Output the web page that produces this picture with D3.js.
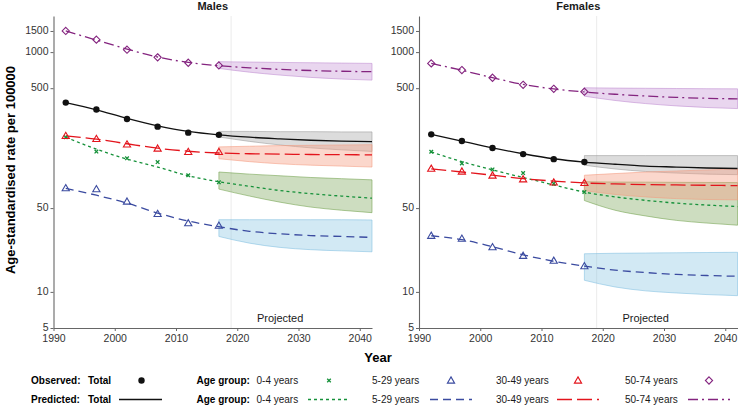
<!DOCTYPE html>
<html>
<head>
<meta charset="utf-8">
<script src="https://cdn.jsdelivr.net/npm/d3@7"></script>
<style>
body { margin: 0; background: #fff; }
svg { font-family: "Liberation Sans", Arial, sans-serif; }
</style>
</head>
<body>
<svg id="chart" width="738" height="405"></svg>
<script>
// years
let obsYears = [1992, 1997, 2002, 2007, 2012, 2017],
    predYears = [1992, 1997, 2002, 2007, 2012, 2017, 2022, 2027, 2032, 2037, 2042],
    bandYears = [2017, 2022, 2027, 2032, 2037, 2042];

let xTicks = [1990, 2000, 2010, 2020, 2030, 2040],
    yTicks = [5, 10, 50, 500, 1000, 1500];

// Males
let mTotalObs = [379, 332, 277, 239, 213, 204],
    mTotalPred = [379, 330, 280, 243, 218, 204, 195, 189, 184, 181, 179],
    mTotalLo = [196, 180, 168, 159, 153, 148.5],
    mTotalHi = [218, 218, 217, 217, 216, 216];
let m04Obs = [195, 148, 130, 121, 94, 82],
    m04Pred = [195, 155, 128, 110, 93, 83, 76, 70, 66, 63, 60.5],
    m04Lo = [72, 63, 56, 51, 48, 45.8],
    m04Hi = [100, 96, 93, 90, 88, 86];
let m529Obs = [73.4, 71.9, 56.7, 44.7, 37.4, 35.7],
    m529Pred = [73, 64, 55, 45.5, 39, 35, 32, 30.5, 29.5, 29, 28.5],
    m529Lo = [29, 25.5, 23.5, 22.5, 22, 21.6],
    m529Hi = [40, 40, 40, 40, 40, 39.8];
let m3049Obs = [200, 189, 170, 157, 147, 147],
    m3049Pred = [200, 188, 172, 158, 149, 144, 142, 141, 140, 139.5, 139],
    m3049Lo = [129, 122, 117, 114, 112, 110],
    m3049Hi = [162, 164, 166, 167, 168, 169];
let m5074Obs = [1500, 1270, 1047, 904, 815, 774],
    m5074Pred = [1500, 1260, 1060, 910, 820, 770, 740, 717, 702, 692, 686],
    m5074Lo = [731, 680, 643, 615, 596, 584],
    m5074Hi = [832, 826, 820, 815, 810, 805];

// Females
let fTotalObs = [206, 181.5, 158.5, 141, 128, 121],
    fTotalPred = [206, 181, 159, 142, 129, 121, 116, 112, 110, 108, 107],
    fTotalLo = [114, 106, 101, 98, 96, 95],
    fTotalHi = [137, 137, 137, 137, 137, 137];
let f04Obs = [147.6, 118, 105, 98, 80, 68],
    f04Pred = [147, 122, 104, 90, 78, 68, 62, 58, 55, 53, 51.5],
    f04Lo = [57.8, 48, 43, 39.5, 37.5, 36],
    f04Hi = [83, 82.5, 82.3, 82, 81.8, 81.7];
let f529Obs = [29.4, 27.8, 23.6, 20, 18.2, 16.4],
    f529Pred = [29.4, 27.3, 23.8, 20.4, 18, 16.4, 15.2, 14.5, 14, 13.7, 13.5],
    f529Lo = [12.5, 11, 10.2, 9.8, 9.5, 9.3],
    f529Hi = [20.8, 21, 21.1, 21.2, 21.3, 21.4];
let f3049Obs = [106.5, 101, 93.5, 87, 82, 81],
    f3049Pred = [106, 100, 94, 88, 84, 81, 79.5, 78.5, 78, 77.5, 77],
    f3049Lo = [70, 65, 62, 60, 59, 58.5],
    f3049Hi = [94, 97, 100, 102, 104, 106];
let f5074Obs = [805, 708, 611, 534, 494, 467],
    f5074Pred = [805, 705, 612, 537, 493, 465, 445, 430, 419, 412, 407],
    f5074Lo = [429, 395, 372, 356, 345, 338],
    f5074Hi = [504, 501, 499, 497, 495, 494];

let groups = [
    {key: "total", label: "Total", color: "#111111", dash: null, marker: "circle", fill: "#9a9a9a", fillOp: 0.35},
    {key: "a04", label: "0-4 years", color: "#16913a", dash: "3,3", marker: "x", fill: "#6f9f4a", fillOp: 0.35},
    {key: "a529", label: "5-29 years", color: "#3b4ba0", dash: "8,5", marker: "triangle", fill: "#7fbfe0", fillOp: 0.35},
    {key: "a3049", label: "30-49 years", color: "#e3141c", dash: "15,5", marker: "triangle", fill: "#f59a80", fillOp: 0.4},
    {key: "a5074", label: "50-74 years", color: "#84247f", dash: "10,4,2,4", marker: "diamond", fill: "#bf8ad0", fillOp: 0.35}
];

let panelData = {
    Males: {
        total: [mTotalObs, mTotalPred, mTotalLo, mTotalHi],
        a04: [m04Obs, m04Pred, m04Lo, m04Hi],
        a529: [m529Obs, m529Pred, m529Lo, m529Hi],
        a3049: [m3049Obs, m3049Pred, m3049Lo, m3049Hi],
        a5074: [m5074Obs, m5074Pred, m5074Lo, m5074Hi]
    },
    Females: {
        total: [fTotalObs, fTotalPred, fTotalLo, fTotalHi],
        a04: [f04Obs, f04Pred, f04Lo, f04Hi],
        a529: [f529Obs, f529Pred, f529Lo, f529Hi],
        a3049: [f3049Obs, f3049Pred, f3049Lo, f3049Hi],
        a5074: [f5074Obs, f5074Pred, f5074Lo, f5074Hi]
    }
};

let svg = d3.select("#chart");

let yScale = d3.scaleLog()
    .domain([5, 2000])
    .range([328, 16]);

let panels = [
    {title: "Males", left: 53.5, right: 372},
    {title: "Females", left: 419, right: 737.5}
];

function drawMarker(sel, type, color) {
    if(type === "circle") {
        sel.append("circle").attr("r", 3.2).attr("fill", color);
    } else if(type === "x") {
        sel.append("path").attr("d", "M-1.8,-1.8L1.8,1.8M-1.8,1.8L1.8,-1.8")
            .attr("stroke", color).attr("stroke-width", 1.3).attr("fill", "none");
    } else if(type === "triangle") {
        sel.append("path").attr("d", "M0,-3.6L3.6,2.6L-3.6,2.6Z")
            .attr("stroke", color).attr("stroke-width", 1.1).attr("fill", "none");
    } else if(type === "diamond") {
        sel.append("path").attr("d", "M0,-3.6L3.6,0L0,3.6L-3.6,0Z")
            .attr("stroke", color).attr("stroke-width", 1.1).attr("fill", "none");
    }
}

panels.forEach(function(p) {
    let xScale = d3.scaleLinear()
        .domain([1990, 2042])
        .range([p.left, p.right]);

    let g = svg.append("g");

    // projection start line
    g.append("line")
        .attr("x1", xScale(2019)).attr("x2", xScale(2019))
        .attr("y1", 16).attr("y2", 328)
        .attr("stroke", "#e6e6e6").attr("stroke-width", 0.8);

    let area = d3.area()
        .x((d, i) => xScale(bandYears[i]))
        .y0(d => yScale(d[0]))
        .y1(d => yScale(d[1]))
        .curve(d3.curveMonotoneX);

    let line = d3.line()
        .x((d, i) => xScale(predYears[i]))
        .y(d => yScale(d))
        .curve(d3.curveMonotoneX);

    let data = panelData[p.title];

    // bands
    groups.forEach(function(gr) {
        let lo = data[gr.key][2], hi = data[gr.key][3];
        g.append("path")
            .attr("d", area(lo.map((v, i) => [v, hi[i]])))
            .attr("fill", gr.fill)
            .attr("fill-opacity", gr.fillOp)
            .attr("stroke", gr.fill)
            .attr("stroke-opacity", 0.7)
            .attr("stroke-width", 0.8);
    });

    // predicted lines
    groups.forEach(function(gr) {
        g.append("path")
            .attr("d", line(data[gr.key][1]))
            .attr("fill", "none")
            .attr("stroke", gr.color)
            .attr("stroke-width", 1.3)
            .attr("stroke-dasharray", gr.dash);
    });

    // observed points
    groups.forEach(function(gr) {
        g.append("g")
            .selectAll("g")
            .data(data[gr.key][0])
            .enter()
            .append("g")
            .attr("transform", (d, i) => "translate(" + xScale(obsYears[i]) + "," + yScale(d) + ")")
            .each(function() { drawMarker(d3.select(this), gr.marker, gr.color); });
    });

    // axes
    let yAxis = g.append("g")
        .attr("transform", "translate(" + p.left + ",0)")
        .call(d3.axisLeft(yScale).tickValues(yTicks).tickFormat(d3.format("d")).tickSize(3).tickSizeOuter(0));
    let xAxis = g.append("g")
        .attr("transform", "translate(0,328)")
        .call(d3.axisBottom(xScale).tickValues(xTicks).tickFormat(d3.format("d")).tickSize(3).tickSizeOuter(0));
    [yAxis, xAxis].forEach(function(a) {
        a.select(".domain").attr("stroke", "#666").attr("stroke-width", 1.1);
        a.selectAll(".tick line").attr("stroke", "#666");
        a.selectAll(".tick text").attr("fill", "#333").style("font-size", "10.5px");
    });
    yAxis.selectAll(".tick text").attr("x", -5).attr("dy", "0.22em");
    xAxis.selectAll(".tick text").attr("y", 7);

    g.append("text")
        .attr("x", xScale(2027))
        .attr("y", 322)
        .attr("text-anchor", "middle")
        .style("font-size", "11px")
        .attr("fill", "#1a1a1a")
        .text("Projected");

    g.append("text")
        .attr("x", (p.left + p.right) / 2)
        .attr("y", 10)
        .attr("text-anchor", "middle")
        .style("font-size", "11px")
        .style("font-weight", "bold")
        .attr("fill", "#1a1a1a")
        .text(p.title);
});

// axis titles
svg.append("text")
    .attr("transform", "translate(15,170) rotate(-90)")
    .attr("text-anchor", "middle")
    .style("font-size", "13px")
    .style("font-weight", "bold")
    .text("Age-standardised rate per 100000");

svg.append("text")
    .attr("x", 378)
    .attr("y", 362)
    .attr("text-anchor", "middle")
    .style("font-size", "13px")
    .style("font-weight", "bold")
    .text("Year");

// legend
let legend = svg.append("g").style("font-size", "10px");
let rows = [{title: "Observed:", y: 384}, {title: "Predicted:", y: 403}];
let ageX = [{label: 256.5, key: 308}, {label: 372, key: 430}, {label: 496, key: 557}, {label: 625, key: 688}];

rows.forEach(function(r, ri) {
    legend.append("text").attr("x", 31).attr("y", r.y).style("font-weight", "bold").text(r.title);
    legend.append("text").attr("x", 88).attr("y", r.y).style("font-weight", "bold").text("Total");
    legend.append("text").attr("x", 196.5).attr("y", r.y).style("font-weight", "bold").text("Age group:");
    let tot = groups[0];
    if(ri === 0) {
        drawMarker(legend.append("g").attr("transform", "translate(141.5," + (r.y - 3.5) + ")"), tot.marker, tot.color);
    } else {
        legend.append("line").attr("x1", 119).attr("x2", 162).attr("y1", r.y - 3.5).attr("y2", r.y - 3.5)
            .attr("stroke", tot.color).attr("stroke-width", 1.3);
    }
    groups.slice(1).forEach(function(gr, i) {
        legend.append("text").attr("x", ageX[i].label).attr("y", r.y).attr("fill", "#1a1a1a").text(gr.label);
        if(ri === 0) {
            drawMarker(legend.append("g").attr("transform", "translate(" + (ageX[i].key + 21) + "," + (r.y - 3.5) + ")"), gr.marker, gr.color);
        } else {
            legend.append("line").attr("x1", ageX[i].key).attr("x2", ageX[i].key + 42)
                .attr("y1", r.y - 3.5).attr("y2", r.y - 3.5)
                .attr("stroke", gr.color).attr("stroke-width", 1.3)
                .attr("stroke-dasharray", gr.dash);
        }
    });
});
</script>
</body>
</html>
